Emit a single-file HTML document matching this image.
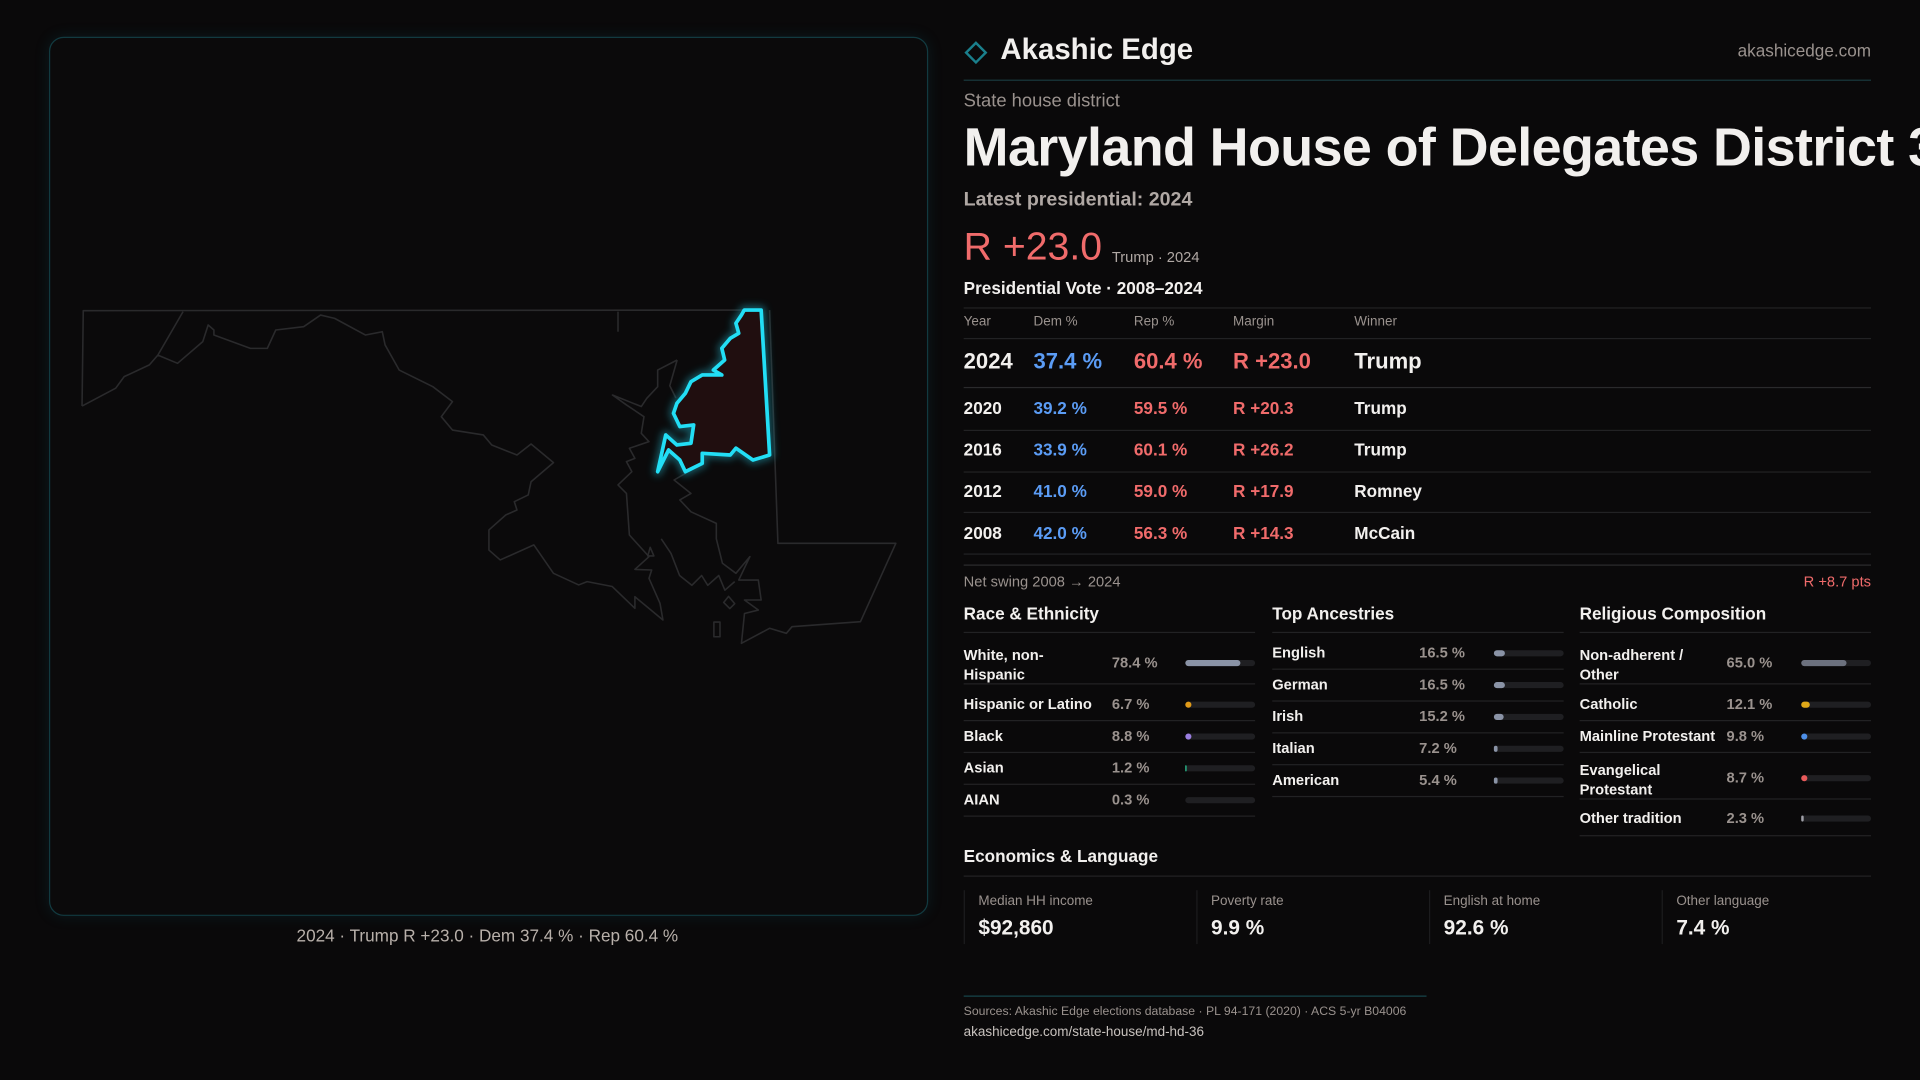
<!DOCTYPE html>
<html><head><meta charset="utf-8"><style>
html,body{margin:0;padding:0;background:#0a090a;width:1920px;height:1080px;overflow:hidden}
#p{position:absolute;left:0;top:0;width:1568px;height:882px;transform:scale(1.22449);transform-origin:0 0;font-family:"Liberation Sans",sans-serif;color:#f2f0ee}
.a{position:absolute;white-space:nowrap;line-height:1}
.l{position:absolute;height:1px;background:#222224}
.g{color:#9a928e}
.b{font-weight:bold}
.d{color:#5b9cf5}.r{color:#f06b6b}
.bar{position:absolute;height:5px;border-radius:3px;background:#1f1f22;width:57px}
.bar i{position:absolute;left:0;top:0;height:5px;border-radius:3px;display:block}
</style></head><body><div id="p">
<div style="position:absolute;left:40px;top:30px;width:716px;height:716px;border:1px solid #123a40;border-radius:12px;background:#0b0a0b;box-shadow:0 0 12px rgba(20,120,140,0.15)"></div>
<svg style="position:absolute;left:0;top:0" width="1568" height="882" viewBox="0 0 1568 882">
<defs><filter id="gl" x="-20%" y="-20%" width="140%" height="140%"><feGaussianBlur stdDeviation="3"/></filter></defs>
<g fill="none" stroke="#2a2a2c" stroke-width="1.3" stroke-linejoin="round">
<path d="M67,331.6 L68,253.7 L621,253.2 M628.5,253.2 L635.3,443.7 L731.6,443.7 L702.7,507.7 L646.8,511.8 L642.2,517.2 L628.5,513.1 L605.5,525.4 L608,501 L619.3,498.2 L608,490 L621.6,490 L619.3,473.7 L603.3,473.7 L612.4,454.6 L601,468.2 L590,460 L585,440 L585,427.4 L564.3,418 L555.2,408.3 L564.3,403 L550.5,392 L559.7,386.6"/>
<path d="M67,331.6 L94.5,317 L101.4,307.6 L122,298 L128.9,290 L149.5,254.5 M128.9,290 L145,296.7 L165.6,279 L170,265.4 L174.7,269.5 L174.7,273.6 L204.5,284.5 L218.3,284.5 L225.2,269.5 L248,266.8 L261.8,257.3 L273.3,260 L298.5,273.6 L312.2,270.9 L314.5,281.7 L326,302.2 L353.5,315.8 L369.5,328 L360.4,340.3 L369.5,351.2 L394.7,355.2 L401.6,363.4 L422.2,371.6 L433.7,362.6 L452,377.8 L433.7,393.4 L431.4,404.2 L420,409.7 L422.2,416.5 L413,420.6 L399.3,432.8 L399.3,449.2 L408.5,457.3 L436,445 L452,468.2 L472.6,477.7 L479.5,475 L500,479 L518.5,496.8 L518.5,487.3 L541.4,506.3 L539,492.7 L530,472.3 L532.2,465.5 L518.5,465 L530,454.6 L514,436.9 L511.6,403 L504.7,396 L516,385.2 L511.6,377 L518.5,374.3 L514,366.1 L530,360.7 L523.7,353.9 L525.9,340.3 L511.6,330.7 L500.2,322.6 L523.7,332 L528.2,325.3 L537.1,315.8 L537.1,302.2 L553,294"/>
<path d="M504.7,254.5 L504.7,270.9"/>
<path d="M553,294 L547,315 L552,325 M540,440 L548,452 L555,470 L565,478 L573,470 L578,478 L587,470 L592,482 L600,475"/>
<path d="M583,508 L588,508 L588,520 L583,520 Z M595,487 L600,493 L596,497 L591,492 Z M531,447 L534,454 L529,454 Z"/>
</g>
<path d="M621.6,253.2 L628.5,371.6 L614.9,375.7 L601,366 L596.4,371.6 L573.5,370.2 L573.5,378.4 L559.7,385.2 L555.2,375.7 L546,367.5 L537.1,385.2 L543.7,355.2 L552.8,363.4 L564.3,362 L566.5,347 L555.2,348.4 L550,337.6 L552.8,329.4 L559.7,321.2 L564.3,311.7 L573.5,306.2 L589.5,306.2 L582.6,302.2 L591.8,294 L589.5,284.5 L596.4,276.3 L603.3,272.2 L601,264 L605.5,257.3 L607.8,253.2 Z" fill="#1f0d0e" stroke="#1c8fa0" stroke-width="7" opacity="0.6" filter="url(#gl)" stroke-linejoin="round"/>
<path d="M621.6,253.2 L628.5,371.6 L614.9,375.7 L601,366 L596.4,371.6 L573.5,370.2 L573.5,378.4 L559.7,385.2 L555.2,375.7 L546,367.5 L537.1,385.2 L543.7,355.2 L552.8,363.4 L564.3,362 L566.5,347 L555.2,348.4 L550,337.6 L552.8,329.4 L559.7,321.2 L564.3,311.7 L573.5,306.2 L589.5,306.2 L582.6,302.2 L591.8,294 L589.5,284.5 L596.4,276.3 L603.3,272.2 L601,264 L605.5,257.3 L607.8,253.2 Z" fill="#200e0f" stroke="#22def5" stroke-width="3" stroke-linejoin="round"/>
<path d="M789,43 L797,35 L805,43 L797,51 Z" fill="none" stroke="#1a7f8c" stroke-width="2"/>
</svg>
<div class="a" style="left:398px;top:757px;transform:translateX(-50%);font-size:14px;color:#b8b0aa">2024 · Trump R +23.0 · Dem 37.4 % · Rep 60.4 %</div>

<div class="a b" style="left:817px;top:29px;font-size:24px">Akashic Edge</div>
<div class="a g" style="right:40px;top:34px;font-size:14px">akashicedge.com</div>
<div class="l" style="left:787px;top:65px;width:741px;background:#1a3a3e"></div>
<div class="a g" style="left:787px;top:75px;font-size:15px">State house district</div>
<div class="a b" style="left:787px;top:99px;font-size:44px;letter-spacing:-0.5px">Maryland House of Delegates District 36</div>
<div class="a g b" style="left:787px;top:156px;font-size:16px;color:#b0a8a4">Latest presidential: 2024</div>
<div class="a r" style="left:787px;top:185px;font-size:32px">R +23.0</div>
<div class="a g" style="left:908px;top:204px;font-size:12px;color:#b0a8a4">Trump · 2024</div>
<div class="a b" style="left:787px;top:228px;font-size:14px">Presidential Vote · 2008–2024</div>
<div class="l" style="left:787px;top:251px;width:741px"></div>
<div class="a g" style="left:787px;top:258px;font-size:11px">Year</div>
<div class="a g" style="left:844px;top:258px;font-size:11px">Dem %</div>
<div class="a g" style="left:926px;top:258px;font-size:11px">Rep %</div>
<div class="a g" style="left:1007px;top:258px;font-size:11px">Margin</div>
<div class="a g" style="left:1106px;top:258px;font-size:11px">Winner</div>
<div class="l" style="left:787px;top:276px;width:741px"></div>
<div class="a b" style="left:787px;top:286px;font-size:18px">2024</div><div class="a d b" style="left:844px;top:286px;font-size:18px">37.4 %</div><div class="a r b" style="left:926px;top:286px;font-size:18px">60.4 %</div><div class="a r b" style="left:1007px;top:286px;font-size:18px">R +23.0</div><div class="a b" style="left:1106px;top:286px;font-size:18px">Trump</div>
<div class="l" style="left:787px;top:316px;width:741px;background:#2a2a2c"></div>
<div class="a b" style="left:787px;top:326px;font-size:14px">2020</div><div class="a d b" style="left:844px;top:326px;font-size:14px">39.2 %</div><div class="a r b" style="left:926px;top:326px;font-size:14px">59.5 %</div><div class="a r b" style="left:1007px;top:326px;font-size:14px">R +20.3</div><div class="a b" style="left:1106px;top:326px;font-size:14px">Trump</div>
<div class="l" style="left:787px;top:351px;width:741px"></div>
<div class="a b" style="left:787px;top:360px;font-size:14px">2016</div><div class="a d b" style="left:844px;top:360px;font-size:14px">33.9 %</div><div class="a r b" style="left:926px;top:360px;font-size:14px">60.1 %</div><div class="a r b" style="left:1007px;top:360px;font-size:14px">R +26.2</div><div class="a b" style="left:1106px;top:360px;font-size:14px">Trump</div>
<div class="l" style="left:787px;top:385px;width:741px"></div>
<div class="a b" style="left:787px;top:394px;font-size:14px">2012</div><div class="a d b" style="left:844px;top:394px;font-size:14px">41.0 %</div><div class="a r b" style="left:926px;top:394px;font-size:14px">59.0 %</div><div class="a r b" style="left:1007px;top:394px;font-size:14px">R +17.9</div><div class="a b" style="left:1106px;top:394px;font-size:14px">Romney</div>
<div class="l" style="left:787px;top:418px;width:741px"></div>
<div class="a b" style="left:787px;top:428px;font-size:14px">2008</div><div class="a d b" style="left:844px;top:428px;font-size:14px">42.0 %</div><div class="a r b" style="left:926px;top:428px;font-size:14px">56.3 %</div><div class="a r b" style="left:1007px;top:428px;font-size:14px">R +14.3</div><div class="a b" style="left:1106px;top:428px;font-size:14px">McCain</div>
<div class="l" style="left:787px;top:452px;width:741px"></div>
<div class="l" style="left:787px;top:461px;width:741px;background:#2c2c2e"></div>
<div class="a g" style="left:787px;top:469px;font-size:12px">Net swing 2008 → 2024</div>
<div class="a r" style="right:40px;top:469px;font-size:12px">R +8.7 pts</div>

<div class="a b" style="left:787px;top:494px;font-size:14px">Race &amp; Ethnicity</div>
<div class="a b" style="left:1039px;top:494px;font-size:14px">Top Ancestries</div>
<div class="a b" style="left:1290px;top:494px;font-size:14px">Religious Composition</div>
<div class="l" style="left:787px;top:516px;width:238px"></div><div class="l" style="left:1039px;top:516px;width:238px"></div><div class="l" style="left:1290px;top:516px;width:238px"></div>

<div style="font-size:12px;font-weight:bold">
<div class="a" style="left:787px;top:527px;line-height:16px">White, non-<br>Hispanic</div><div class="a g" style="left:908px;top:535px">78.4 %</div><div class="bar" style="left:968px;top:539px"><i style="width:45px;background:#8a93a6"></i></div>
<div class="l" style="left:787px;top:558px;width:238px"></div>
<div class="a" style="left:787px;top:569px">Hispanic or Latino</div><div class="a g" style="left:908px;top:569px">6.7 %</div><div class="bar" style="left:968px;top:573px"><i style="width:5px;background:#e09a18"></i></div>
<div class="l" style="left:787px;top:588px;width:238px"></div>
<div class="a" style="left:787px;top:595px">Black</div><div class="a g" style="left:908px;top:595px">8.8 %</div><div class="bar" style="left:968px;top:599px"><i style="width:5px;background:#9a7ee0"></i></div>
<div class="l" style="left:787px;top:614px;width:238px"></div>
<div class="a" style="left:787px;top:621px">Asian</div><div class="a g" style="left:908px;top:621px">1.2 %</div><div class="bar" style="left:968px;top:625px"><i style="width:1px;background:#2ccf9a"></i></div>
<div class="l" style="left:787px;top:640px;width:238px"></div>
<div class="a" style="left:787px;top:647px">AIAN</div><div class="a g" style="left:908px;top:647px">0.3 %</div><div class="bar" style="left:968px;top:651px"></div>
<div class="l" style="left:787px;top:666px;width:238px"></div>

<div class="a" style="left:1039px;top:527px">English</div><div class="a g" style="left:1159px;top:527px">16.5 %</div><div class="bar" style="left:1220px;top:531px"><i style="width:9px;background:#8a93a6"></i></div>
<div class="l" style="left:1039px;top:546px;width:238px"></div>
<div class="a" style="left:1039px;top:553px">German</div><div class="a g" style="left:1159px;top:553px">16.5 %</div><div class="bar" style="left:1220px;top:557px"><i style="width:9px;background:#8a93a6"></i></div>
<div class="l" style="left:1039px;top:572px;width:238px"></div>
<div class="a" style="left:1039px;top:579px">Irish</div><div class="a g" style="left:1159px;top:579px">15.2 %</div><div class="bar" style="left:1220px;top:583px"><i style="width:8px;background:#8a93a6"></i></div>
<div class="l" style="left:1039px;top:598px;width:238px"></div>
<div class="a" style="left:1039px;top:605px">Italian</div><div class="a g" style="left:1159px;top:605px">7.2 %</div><div class="bar" style="left:1220px;top:609px"><i style="width:3px;background:#8a93a6"></i></div>
<div class="l" style="left:1039px;top:624px;width:238px"></div>
<div class="a" style="left:1039px;top:631px">American</div><div class="a g" style="left:1159px;top:631px">5.4 %</div><div class="bar" style="left:1220px;top:635px"><i style="width:3px;background:#8a93a6"></i></div>
<div class="l" style="left:1039px;top:650px;width:238px"></div>

<div class="a" style="left:1290px;top:527px;line-height:16px">Non-adherent /<br>Other</div><div class="a g" style="left:1410px;top:535px">65.0 %</div><div class="bar" style="left:1471px;top:539px"><i style="width:37px;background:#6c717e"></i></div>
<div class="l" style="left:1290px;top:558px;width:238px"></div>
<div class="a" style="left:1290px;top:569px">Catholic</div><div class="a g" style="left:1410px;top:569px">12.1 %</div><div class="bar" style="left:1471px;top:573px"><i style="width:7px;background:#e0a818"></i></div>
<div class="l" style="left:1290px;top:588px;width:238px"></div>
<div class="a" style="left:1290px;top:595px">Mainline Protestant</div><div class="a g" style="left:1410px;top:595px">9.8 %</div><div class="bar" style="left:1471px;top:599px"><i style="width:5px;background:#4d8fe8"></i></div>
<div class="l" style="left:1290px;top:614px;width:238px"></div>
<div class="a" style="left:1290px;top:621px;line-height:16px">Evangelical<br>Protestant</div><div class="a g" style="left:1410px;top:629px">8.7 %</div><div class="bar" style="left:1471px;top:633px"><i style="width:5px;background:#e85a5a"></i></div>
<div class="l" style="left:1290px;top:652px;width:238px"></div>
<div class="a" style="left:1290px;top:662px">Other tradition</div><div class="a g" style="left:1410px;top:662px">2.3 %</div><div class="bar" style="left:1471px;top:666px"><i style="width:2px;background:#a0a0a8"></i></div>
<div class="l" style="left:1290px;top:682px;width:238px"></div>
</div>

<div class="a b" style="left:787px;top:692px;font-size:14px">Economics &amp; Language</div>
<div class="l" style="left:787px;top:715px;width:741px"></div>
<div style="position:absolute;left:787px;top:727px;width:1px;height:44px;background:#1c1c1e"></div>
<div style="position:absolute;left:977px;top:727px;width:1px;height:44px;background:#1c1c1e"></div>
<div style="position:absolute;left:1167px;top:727px;width:1px;height:44px;background:#1c1c1e"></div>
<div style="position:absolute;left:1357px;top:727px;width:1px;height:44px;background:#1c1c1e"></div>
<div class="a g" style="left:799px;top:731px;font-size:11px">Median HH income</div><div class="a b" style="left:799px;top:749px;font-size:17px">$92,860</div>
<div class="a g" style="left:989px;top:731px;font-size:11px">Poverty rate</div><div class="a b" style="left:989px;top:749px;font-size:17px">9.9 %</div>
<div class="a g" style="left:1179px;top:731px;font-size:11px">English at home</div><div class="a b" style="left:1179px;top:749px;font-size:17px">92.6 %</div>
<div class="a g" style="left:1369px;top:731px;font-size:11px">Other language</div><div class="a b" style="left:1369px;top:749px;font-size:17px">7.4 %</div>

<div class="l" style="left:787px;top:813px;width:378px;background:#17464c"></div>
<div class="a g" style="left:787px;top:822px;font-size:10px">Sources: Akashic Edge elections database · PL 94-171 (2020) · ACS 5-yr B04006</div>
<div class="a" style="left:787px;top:838px;font-size:11px;color:#c8c2be">akashicedge.com/state-house/md-hd-36</div>
</div></body></html>
